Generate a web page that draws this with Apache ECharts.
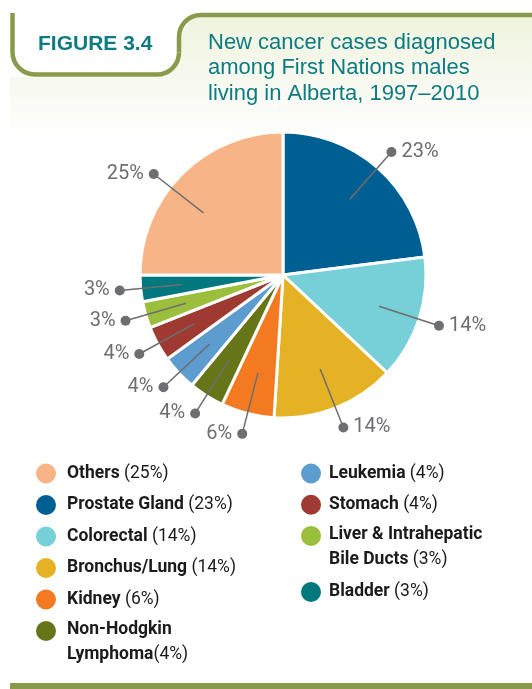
<!DOCTYPE html>
<html><head><meta charset="utf-8">
<script src="https://cdn.jsdelivr.net/npm/echarts@6/dist/echarts.min.js"></script>
<style>html,body{margin:0;padding:0;background:#fff}#c{width:532px;height:689px}</style>
</head><body><div id="c"></div>
<script>
// Pie order (clockwise from 12 o'clock)
const categories = ['Prostate Gland', 'Colorectal', 'Bronchus/Lung', 'Kidney', 'Non-Hodgkin Lymphoma',
  'Leukemia', 'Stomach', 'Liver & Intrahepatic Bile Ducts', 'Bladder', 'Others'];
const percents = [23, 14, 14, 6, 4, 4, 4, 3, 3, 25];
const sliceColors = ['#005f92', '#77cfd8', '#e4b224', '#f37a21', '#677519',
  '#5d9ccf', '#9e3a31', '#9bbf3c', '#00787e', '#f7b587'];
// Legend display text (same order as categories)
const legendNames = ['Prostate Gland', 'Colorectal', 'Bronchus/Lung', 'Kidney', 'Non-Hodgkin\nLymphoma',
  'Leukemia', 'Stomach', 'Liver & Intrahepatic\nBile Ducts', 'Bladder', 'Others'];
const legendLeft = ['Others', 'Prostate Gland', 'Colorectal', 'Bronchus/Lung', 'Kidney', 'Non-Hodgkin Lymphoma'];
const legendRight = ['Leukemia', 'Stomach', 'Liver & Intrahepatic Bile Ducts'];
const legendRight2 = ['Bladder'];
const titleLines = ['New cancer cases diagnosed', 'among First Nations males', 'living in Alberta, 1997\u20132010'];
const figureLabel = 'FIGURE 3.4';

const COND = "Roboto, 'Liberation Sans', sans-serif";
const HELV = "'Liberation Sans', Arial, sans-serif";
const GREEN = '#8a9a4b';
const TEAL = '#0e7a82';
const GREY = '#6d6e71';
const CENTER = [283, 275];
const OTHERS_LINE_TURN = -7 * Math.PI / 180; // leader line of the big "Others" slice is drawn a little flatter

const total = percents.reduce((a, b) => a + b, 0);
const midFrac = percents.map((v, i) => (percents.slice(0, i).reduce((a, b) => a + b, 0) + v / 2) / total);

const pieData = categories.map((n, i) => ({ name: n, value: percents[i], itemStyle: { color: sliceColors[i] } }));
const labelData = categories.map((n, i) => ({ name: n, value: percents[i] }));

function legendFmt(name) {
  const i = categories.indexOf(name);
  const lines = legendNames[i].split('\n');
  const sep = name === 'Non-Hodgkin Lymphoma' ? '' : ' ';
  return lines.map((l, k) => {
    const s = k > 0 ? '2' : '';
    return '{n' + s + '|' + l + '}' + (k === lines.length - 1 ? '{p' + s + '|' + sep + '(' + percents[i] + '%)}' : '');
  }).join('\n');
}
function legendItems(list, padLeft) {
  return list.map(n => {
    const two = legendNames[categories.indexOf(n)].indexOf('\n') >= 0;
    return two ? { name: n, textStyle: { padding: [0, 0, -24, padLeft] } } : { name: n };
  });
}
function legendTextStyle(padLeft) {
  const base = { fontFamily: COND, fontSize: 17.5, color: '#1b1b1b' };
  return {
    padding: [0, 0, 0, padLeft],
    rich: {
      n: Object.assign({}, base, { fontWeight: 'bold', lineHeight: 24 }),
      p: Object.assign({}, base, { fontWeight: 'normal', lineHeight: 24 }),
      n2: Object.assign({}, base, { fontWeight: 'bold', lineHeight: 26 }),
      p2: Object.assign({}, base, { fontWeight: 'normal', lineHeight: 26 })
    }
  };
}
function legendBlock(left, top, gap, list, padLeft) {
  return { orient: 'vertical', left: left, top: top, padding: 0, itemWidth: 22, itemHeight: 22, itemGap: gap,
    icon: 'circle', selectedMode: false, data: legendItems(list, padLeft), formatter: legendFmt,
    textStyle: legendTextStyle(padLeft) };
}
const lineStyle = { stroke: GREEN, lineWidth: 4.5, fill: null };
const P = Math.PI;

function rotatePt(pt, a) {
  const dx = pt[0] - CENTER[0], dy = pt[1] - CENTER[1];
  return [CENTER[0] + dx * Math.cos(a) - dy * Math.sin(a), CENTER[1] + dx * Math.sin(a) + dy * Math.cos(a)];
}

const chart = echarts.init(document.getElementById('c'), null, { renderer: 'canvas' });
chart.setOption({
  animation: false,
  backgroundColor: '#ffffff',
  graphic: [
    { type: 'polygon', z: -10, silent: true,
      shape: { points: [[10, 77], [165, 77], [181, 60], [181, 32], [197, 15], [532, 15], [532, 140], [10, 140]] },
      style: { fill: new echarts.graphic.LinearGradient(0, 0, 0, 1, [
        { offset: 0, color: '#eef3dd' }, { offset: 1, color: '#ffffff' }]) } },
    { type: 'line', silent: true, shape: { x1: 12.5, y1: 13, x2: 12.5, y2: 52 }, style: lineStyle },
    { type: 'arc', silent: true, shape: { cx: 35, cy: 52, r: 22.5, startAngle: P / 2, endAngle: P, clockwise: true }, style: lineStyle },
    { type: 'line', silent: true, shape: { x1: 35, y1: 74.5, x2: 157, y2: 74.5 }, style: lineStyle },
    { type: 'arc', silent: true, shape: { cx: 157, cy: 52.5, r: 22, startAngle: 0, endAngle: P / 2, clockwise: true }, style: lineStyle },
    { type: 'line', silent: true, shape: { x1: 179, y1: 52.5, x2: 179, y2: 37 }, style: lineStyle },
    { type: 'arc', silent: true, shape: { cx: 201, cy: 37, r: 22, startAngle: P, endAngle: 1.5 * P, clockwise: true }, style: lineStyle },
    { type: 'line', silent: true, shape: { x1: 201, y1: 15, x2: 532, y2: 15 }, style: lineStyle },
    { type: 'rect', silent: true, shape: { x: 10, y: 683, width: 522, height: 6 }, style: { fill: GREEN } },
    { type: 'text', silent: true, left: 38, top: 34,
      style: { text: figureLabel, fontFamily: HELV, fontWeight: 'bold', fontSize: 21, fill: TEAL } },
    { type: 'text', silent: true, left: 208, top: 30,
      style: { text: titleLines.join('\n'), fontFamily: HELV, fontSize: 22, lineHeight: 25.5, fill: TEAL } }
  ],
  legend: [
    legendBlock(34, 461.5, 7.5, legendLeft, 5),
    legendBlock(299, 461.5, 7.2, legendRight, 2),
    legendBlock(299, 580, 0, legendRight2, 2)
  ],
  series: [
    { type: 'pie', name: 'cases', center: CENTER, radius: [0, 143], startAngle: 90, clockwise: true,
      avoidLabelOverlap: false, silent: true,
      itemStyle: { borderColor: '#ffffff', borderWidth: 3 },
      label: { show: false }, labelLine: { show: false },
      data: pieData },
    { type: 'pie', name: 'labels', center: CENTER, radius: [0, 101], startAngle: 90, clockwise: true,
      avoidLabelOverlap: false, silent: true, z: 5,
      itemStyle: { color: 'rgba(0,0,0,0)', borderWidth: 0 },
      label: {
        show: true, position: 'outside', distanceToLabelLine: -5,
        formatter: p => {
          const right = midFrac[p.dataIndex] < 0.5;
          return right ? '{d|}{t| ' + p.value + '%}' : '{t|' + p.value + '% }{d|}';
        },
        rich: {
          t: { fontFamily: COND, fontSize: 20, color: GREY, fontWeight: 'normal' },
          d: { width: 10, height: 10, borderRadius: 5, backgroundColor: GREY }
        }
      },
      labelLine: { show: true, length: 63, length2: 0, smooth: false, lineStyle: { color: GREY, width: 1.5 } },
      labelLayout: params => {
        if (categories[params.dataIndex] !== 'Others' || !params.labelLinePoints) return {};
        const pts = params.labelLinePoints.map(pt => rotatePt(pt, OTHERS_LINE_TURN));
        const end = pts[pts.length - 1];
        return { x: end[0] + 5, y: end[1], labelLinePoints: pts };
      },
      emphasis: { disabled: true },
      data: labelData }
  ]
});
</script></body></html>
